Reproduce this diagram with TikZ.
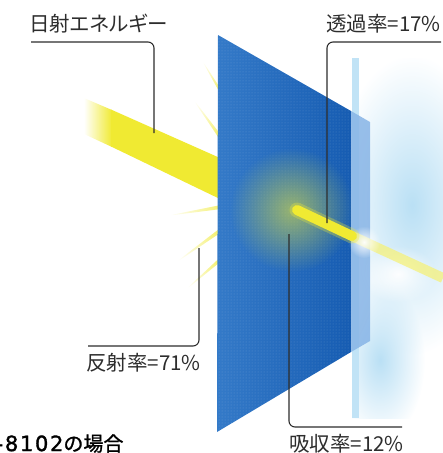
\documentclass[tikz,border=0pt]{standalone}
\usepackage{fontspec}
\newfontfamily\cjk{Noto Sans CJK JP}
\newfontfamily\cjkp[RawFeature=+palt]{Noto Sans CJK JP}
\newfontfamily\cjkmed[FakeBold=1.2]{Noto Sans CJK JP}
\newfontfamily\digmed[FakeBold=1.6,LetterSpace=8]{DejaVu Sans}
\usetikzlibrary{fadings,patterns,calc}
\definecolor{beamyel}{RGB}{240,234,50}
\definecolor{paneblueL}{RGB}{52,122,200}
\definecolor{paneblueD}{RGB}{22,92,178}
\definecolor{edgeblue}{RGB}{135,180,230}
\definecolor{backblue}{RGB}{182,222,244}
\definecolor{linegray}{RGB}{45,45,45}
\definecolor{glowyel}{RGB}{215,220,70}
\tikzfading[name=fadeleft, left color=transparent!100, right color=transparent!0]
\tikzfading[name=glowfade, inner color=transparent!5, outer color=transparent!100]
\tikzfading[name=softglow, inner color=transparent!35, outer color=transparent!100]
\begin{document}
\begin{tikzpicture}[x=1pt,y=-1pt,
  callout/.style={draw=linegray, line width=1.1pt, rounded corners=6pt},
  lbl/.style={inner sep=0pt, font=\cjk\fontsize{20.5}{20.5}\selectfont, text=linegray},
  raystyle/.style={top color=white, bottom color=beamyel!65}]
\useasboundingbox (0,0) rectangle (443,453);

% ---- back pane (light blue, fuzzy)
\begin{scope}
  \clip (352,58) rectangle (443,418);
  \fill[backblue, path fading=glowfade] (412,205) ellipse (80pt and 150pt);
  \fill[backblue, path fading=glowfade] (380,360) ellipse (45pt and 80pt);
  \fill[white, path fading=glowfade] (398,274) ellipse (38pt and 28pt);
\end{scope}
\fill[backblue!85!white] (352,58) rectangle (359,418);

% ---- reflected rays
\coordinate (r1a) at (221,92);  \coordinate (r1b) at (200,57);
\coordinate (r2a) at (221,138); \coordinate (r2b) at (190,95);
\coordinate (r3a) at (221,207); \coordinate (r3b) at (166,216);
\coordinate (r4a) at (221,230); \coordinate (r4b) at (171,266);
\coordinate (r5a) at (221,259); \coordinate (r5b) at (182,293);
\shade[raystyle, shading angle=28.7] ($(r1a)!1.4pt!90:(r1b)$) -- (r1b) -- ($(r1a)!1.4pt!-90:(r1b)$) -- cycle;
\shade[raystyle, shading angle=35.4] ($(r2a)!1.8pt!90:(r2b)$) -- (r2b) -- ($(r2a)!1.8pt!-90:(r2b)$) -- cycle;
\shade[raystyle, shading angle=99.3] ($(r3a)!2pt!90:(r3b)$) -- (r3b) -- ($(r3a)!2pt!-90:(r3b)$) -- cycle;
\shade[raystyle, shading angle=125.4] ($(r4a)!2pt!90:(r4b)$) -- (r4b) -- ($(r4a)!2pt!-90:(r4b)$) -- cycle;
\shade[raystyle, shading angle=131.4] ($(r5a)!1.8pt!90:(r5b)$) -- (r5b) -- ($(r5a)!1.8pt!-90:(r5b)$) -- cycle;

% ---- incoming beam
\fill[beamyel, path fading=fadeleft] (84,98) -- (112,110) -- (112,147) -- (84,134) -- cycle;
\fill[beamyel] (111,109.5) -- (220,158) -- (220,199) -- (111,146.5) -- cycle;

% ---- front pane
\shade[left color=paneblueL, right color=paneblueD] (218,35) -- (351,111) -- (351,352) -- (217,432) -- cycle;
\fill[pattern=dots, pattern color=white, opacity=0.22] (218,35) -- (351,111) -- (351,352) -- (217,432) -- cycle;
\begin{scope}
  \clip (218,35) -- (351,111) -- (351,352) -- (217,432) -- cycle;
  \fill[glowyel, path fading=softglow] (292,210) circle (62pt);
\end{scope}
\fill[edgeblue, opacity=0.85] (351,111) -- (370,122) -- (370,341) -- (351,352) -- cycle;

% ---- transmitted beam
\draw[beamyel!65!white, line width=10pt, opacity=0.75] (352,236) -- (443,278);
\fill[white, path fading=glowfade] (364,242) circle (16pt);
\draw[beamyel, line width=15pt, line cap=round, opacity=0.3] (297,210) -- (352,236);
\draw[beamyel, line width=10pt, line cap=round] (297,210) -- (352,236);

% ---- labels
\node[lbl, anchor=west, font=\cjkp\fontsize{20.5}{20.5}\selectfont] (t1) at (29,23.5) {日射エネルギー};
\node[lbl, anchor=east] (t2) at (441,23.5) {透過率=17\%};
\node[lbl, anchor=west] (t3) at (86,362.5) {反射率=71\%};
\node[lbl, anchor=west] (t4) at (289,443.5) {吸収率=12\%};
\node[lbl, anchor=west, font=\cjkmed\fontsize{20}{20}\selectfont, text=black] (t5) at (-4.5,443.5) {{\digmed\fontsize{21}{21}\selectfont-8102}の場合};

% ---- callout connectors
\coordinate (c1s) at (31,42);   \coordinate (c1k) at (154,42);  \coordinate (c1e) at (154,133);
\coordinate (c2s) at (441,42);  \coordinate (c2k) at (327,42);  \coordinate (c2e) at (327,223);
\coordinate (c3s) at (88,346);  \coordinate (c3k) at (199,346); \coordinate (c3e) at (199,248);
\coordinate (c4s) at (402,427); \coordinate (c4k) at (289,427); \coordinate (c4e) at (289,234);
\draw[callout] (c1s) -- (c1k) -- (c1e);
\draw[callout] (c2s) -- (c2k) -- (c2e);
\draw[callout] (c3s) -- (c3k) -- (c3e);
\draw[callout] (c4s) -- (c4k) -- (c4e);
\end{tikzpicture}
\end{document}
